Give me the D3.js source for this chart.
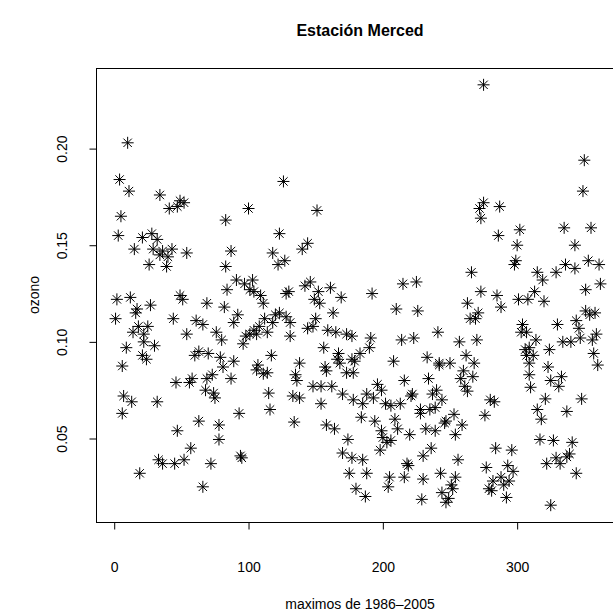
<!DOCTYPE html>
<html>
<head>
<meta charset="utf-8">
<script src="https://cdn.jsdelivr.net/npm/d3@7"></script>
<style>
body { margin: 0; background: #fff; }
text { font-family: "Liberation Sans", Arial, Helvetica, sans-serif; fill: #000; }
</style>
</head>
<body>
<div id="chart"></div>
<script>
// day of year and daily ozone maximum
var day = [
  10, 4, 11, 34, 41, 49, 52, 47, 126, 100,
  151, 275, 272, 275, 350, 349, 287, 5, 83, 3,
  21, 28, 32, 15, 29, 36, 43, 34, 40, 54,
  26, 39, 83, 2, 12, 49, 51, 69, 82, 17,
  16, 27, 1, 44, 61, 66, 18, 25, 14, 22,
  76, 54, 22, 30, 9, 80, 21, 24, 60, 63,
  70, 79, 6, 84,
  123, 144, 140, 87, 118, 127, 122, 91, 97, 103,
  101, 104, 109, 111, 130, 128, 142, 146, 152, 149,
  153, 161, 169, 92, 89, 163, 120, 123, 128, 112,
  118, 131, 108, 104, 114, 150, 144, 148, 159, 165,
  173, 177, 98, 101, 106, 96, 131, 156, 167, 166,
  117, 89, 138, 107, 177,
  273, 266, 273, 263, 215, 225, 192, 210, 226, 265,
  269, 271, 191, 214, 223, 241, 257, 270, 190, 183,
  179, 208, 233, 242, 250, 262, 268, 286, 302, 335,
  355, 300, 343, 299, 298, 315, 319, 329, 336, 343,
  353, 361, 362, 351, 285, 288, 301, 308, 313, 320,
  351, 354, 358, 344, 330, 304, 303, 307, 346, 359,
  314, 334, 340, 347, 356, 324, 306, 309, 312, 307,
  357, 360, 323, 309,
  46, 56, 58, 69, 73, 81, 68, 74, 75, 7,
  13, 32, 6, 63, 78, 78, 47, 57, 33, 36,
  45, 52, 72, 19, 66, 87, 106, 111, 114, 135,
  136, 157, 158, 168, 173, 178, 148, 154, 162, 170,
  115, 133, 138, 154, 116, 93, 134, 158, 164, 174,
  170, 177, 94, 95, 175, 180,
  242, 260, 258, 267, 261, 263, 216, 234, 196, 199,
  188, 178, 185, 193, 202, 206, 213, 222, 221, 237,
  240, 244, 228, 235, 239, 228, 184, 194, 209, 276,
  253, 247, 246, 259, 254, 211, 199, 200, 203, 206,
  220, 232, 239, 198, 236, 230, 256, 185, 218, 219,
  188, 205, 204, 216, 230, 243, 254, 251, 252, 244,
  249, 247, 187, 229,
  309, 333, 325, 331, 310, 321, 348, 280, 283, 315,
  337, 318, 317, 327, 341, 284, 296, 277, 293, 297,
  322, 329, 332, 337, 339, 344, 282, 288, 294, 290,
  279, 281, 292, 325
];

var ozone = [
  .203, .184, .178, .176, .169, .173, .172, .170, .183, .169,
  .168, .233, .169, .172, .194, .178, .170, .165, .163, .155,
  .154, .156, .153, .148, .148, .147, .148, .145, .144, .146,
  .140, .139, .139, .122, .123, .124, .122, .120, .118, .117,
  .115, .119, .112, .112, .111, .109, .108, .108, .105, .104,
  .105, .104, .100, .098, .097, .101, .093, .091, .093, .095,
  .094, .092, .0875, .127,
  .156, .151, .148, .147, .146, .142, .140, .132, .130, .132,
  .127, .126, .124, .120, .126, .125, .129, .131, .126, .122,
  .120, .128, .123, .114, .110, .115, .114, .115, .113, .112,
  .110, .110, .108, .106, .105, .112, .107, .108, .106, .105,
  .104, .103, .103, .104, .104, .099, .103, .097, .094, .091,
  .093, .090, .089, .088, .091,
  .164, .136, .126, .120, .130, .131, .125, .117, .116, .112,
  .112, .115, .102, .101, .102, .105, .100, .101, .097, .094,
  .090, .090, .092, .089, .089, .093, .089, .155, .158, .159,
  .159, .150, .150, .142, .140, .136, .132, .136, .140, .138,
  .142, .140, .130, .127, .124, .118, .122, .122, .126, .121,
  .116, .114, .115, .111, .109, .109, .105, .105, .107, .104,
  .101, .100, .100, .102, .101, .096, .096, .097, .093, .093,
  .094, .088, .087, .089,
  .079, .079, .081, .081, .083, .087, .075, .0735, .071, .072,
  .069, .069, .063, .059, .057, .0495, .054, .045, .039, .037,
  .037, .039, .037, .032, .025, .081, .0855, .0835, .084, .083,
  .080, .087, .085, .089, .084, .084, .077, .077, .077, .073,
  .0735, .072, .071, .068, .065, .063, .0585, .057, .055, .0495,
  .0425, .040, .041, .040, .032, .024,
  .088, .085, .081, .082, .077, .0745, .080, .081, .078, .075,
  .073, .070, .068, .071, .068, .067, .068, .073, .072, .073,
  .075, .070, .065, .065, .066, .063, .061, .059, .060, .062,
  .0625, .059, .058, .057, .052, .055, .054, .0505, .048, .049,
  .052, .055, .054, .044, .045, .041, .039, .039, .037, .036,
  .032, .030, .025, .030, .029, .032, .030, .026, .024, .022,
  .019, .017, .020, .0185,
  .083, .082, .080, .077, .0765, .0705, .0705, .070, .069, .065,
  .064, .060, .0495, .049, .048, .045, .044, .035, .036, .033,
  .037, .040, .037, .0405, .042, .032, .028, .030, .028, .026,
  .024, .023, .0195, .0155
];

var xTicks = [0, 100, 200, 300];
var yTicks = [0.05, 0.10, 0.15, 0.20];
var dayRange = [1, 365];

if (day.length !== ozone.length) console.error("length mismatch", day.length, ozone.length);

var width = 613, height = 613;
var box = { left: 96, right: 624, top: 68, bottom: 522 };

// R pads the data range by 4% on each side
function pad(ext) {
    var d = (ext[1] - ext[0]) * 0.04;
    return [ext[0] - d, ext[1] + d];
}

var x = d3.scaleLinear().domain(pad(dayRange)).range([box.left, box.right]);
var y = d3.scaleLinear().domain(pad(d3.extent(ozone))).range([box.bottom, box.top]);

var svg = d3.select("#chart").append("svg")
    .attr("width", width)
    .attr("height", height);

svg.append("rect")
    .attr("x", box.left + 0.5)
    .attr("y", box.top + 0.5)
    .attr("width", box.right - box.left)
    .attr("height", box.bottom - box.top)
    .style("fill", "none")
    .style("stroke", "#000")
    .style("stroke-width", 1);

// x axis
var xAxis = svg.append("g")
    .attr("transform", "translate(0," + (box.bottom + 0.5) + ")")
    .call(d3.axisBottom(x).tickValues(xTicks).tickSize(7).tickPadding(33).tickFormat(d3.format("d")));
xAxis.select(".domain").remove();
xAxis.selectAll("text").style("font-size", "14px").style("font-family", "Liberation Sans, Arial, sans-serif");

// y axis, labels parallel to the axis
var yAxis = svg.append("g")
    .attr("transform", "translate(" + (box.left + 0.5) + ",0)")
    .call(d3.axisLeft(y).tickValues(yTicks).tickSize(7).tickFormat(d3.format(".2f")));
yAxis.select(".domain").remove();
yAxis.selectAll("text")
    .attr("x", null).attr("dy", null)
    .attr("text-anchor", "middle")
    .attr("transform", "translate(-30,0) rotate(-90)")
    .style("font-size", "14px")
    .style("font-family", "Liberation Sans, Arial, sans-serif");

// asterisk marks (pch 8)
var r = 6, rd = 4.2;
var star = "M" + (-r) + ",0H" + r + "M0," + (-r) + "V" + r +
    "M" + (-rd) + "," + (-rd) + "L" + rd + "," + rd +
    "M" + (-rd) + "," + rd + "L" + rd + "," + (-rd);

svg.append("g").selectAll("path")
    .data(day.map(function (d, i) { return { day: d, ozone: ozone[i] }; }))
    .enter().append("path")
    .attr("d", star)
    .attr("transform", function (d) { return "translate(" + x(d.day) + "," + y(d.ozone) + ")"; })
    .style("fill", "none")
    .style("stroke", "#000")
    .style("stroke-width", 1);

var cx = (box.left + box.right) / 2;

svg.append("text")
    .attr("x", cx)
    .attr("y", 36)
    .attr("text-anchor", "middle")
    .style("font-size", "16px")
    .style("font-weight", "bold")
    .text("Estación Merced");

svg.append("text")
    .attr("x", cx)
    .attr("y", 609)
    .attr("text-anchor", "middle")
    .style("font-size", "14px")
    .text("maximos de 1986–2005");

svg.append("text")
    .attr("transform", "translate(39," + ((box.top + box.bottom) / 2) + ") rotate(-90)")
    .attr("text-anchor", "middle")
    .style("font-size", "14px")
    .text("ozono");
</script>
</body>
</html>
